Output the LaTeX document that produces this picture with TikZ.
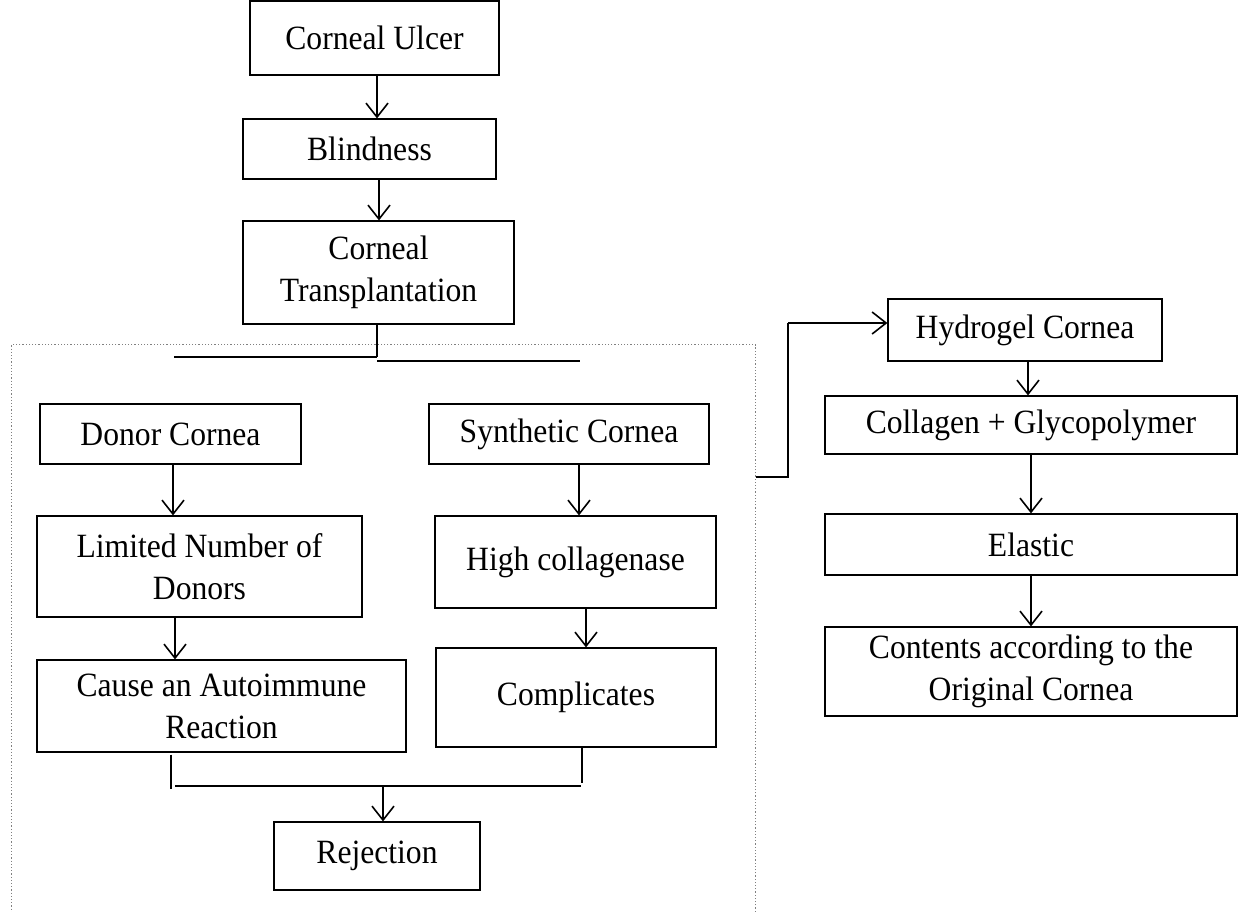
\documentclass[tikz,border=0pt]{standalone}
\usepackage{fontspec}
\setmainfont{Liberation Serif}[FakeStretch=0.93]
\usetikzlibrary{arrows.meta}
\begin{document}
\begin{tikzpicture}[x=1pt,y=-1pt,
  box/.style={draw, line width=1.2pt, rectangle, inner sep=0pt, align=center,
    font=\fontsize{34}{42}\selectfont},
  arr/.style={line width=1.6pt, -{Straight Barb[length=14pt,width=22pt,line width=1.6pt]}},
  brk/.style={line width=2.6pt},
  grpbox/.style={draw=gray, dotted, line width=1.2pt, inner sep=0pt}]
\useasboundingbox (0,0) rectangle (1239,911);
% group
\node[grpbox, minimum width=744pt, minimum height=620pt, anchor=north west] (grp) at (11,344) {};
% boxes
\node[box, minimum width=249pt, minimum height=74pt] (ulcer) at (374.5,38) {Corneal Ulcer};
\node[box, minimum width=253pt, minimum height=60pt] (blind) at (369.5,149) {Blindness};
\node[box, minimum width=271pt, minimum height=103pt] (ct) at (378.5,272.5) {Corneal\\Transplantation};
\node[box, minimum width=261pt, minimum height=60pt] (donor) at (170.5,434) {Donor Cornea};
\node[box, minimum width=280pt, minimum height=60pt] (synth) at (569,434) {Synthetic Cornea};
\node[box, minimum width=325pt, minimum height=101pt] (limited) at (199.5,566.5) {Limited Number of\\Donors};
\node[box, minimum width=281pt, minimum height=92pt] (high) at (575.5,562) {High collagenase};
\node[box, minimum width=369pt, minimum height=92pt] (cause) at (221.5,706) {Cause an Autoimmune\\Reaction};
\node[box, minimum width=280pt, minimum height=99pt] (compl) at (576,697.5) {Complicates};
\node[box, minimum width=206pt, minimum height=68pt] (reject) at (377,856) {Rejection};
\node[box, minimum width=274pt, minimum height=62pt] (hydro) at (1025,330) {Hydrogel Cornea};
\node[box, minimum width=412pt, minimum height=58pt] (coll) at (1031,425) {Collagen + Glycopolymer};
\node[box, minimum width=412pt, minimum height=61pt] (elastic) at (1031,544.5) {Elastic};
\node[box, minimum width=412pt, minimum height=89pt] (contents) at (1031,671.5) {Contents according to the\\Original Cornea};
% straight arrows
\coordinate (a1) at ([xshift=2.5pt]ulcer.south);
\draw[arr] (a1) -- (a1 |- blind.north);
\coordinate (a2) at ([xshift=9.5pt]blind.south);
\draw[arr] (a2) -- (a2 |- ct.north);
\coordinate (a3) at ([xshift=2.5pt]donor.south);
\draw[arr] (a3) -- (a3 |- limited.north);
\coordinate (a4) at ([xshift=-24.5pt]limited.south);
\draw[arr] (a4) -- (a4 |- cause.north);
\coordinate (a5) at ([xshift=10pt]synth.south);
\draw[arr] (a5) -- (a5 |- high.north);
\coordinate (a6) at ([xshift=10.5pt]high.south);
\draw[arr] (a6) -- (a6 |- compl.north);
\coordinate (a7) at ([xshift=3pt]hydro.south);
\draw[arr] (a7) -- (a7 |- coll.north);
\draw[arr] (coll.south) -- (elastic.north);
\draw[arr] (elastic.south) -- (contents.north);
% split under transplantation
\coordinate (s0) at ([xshift=-1.5pt]ct.south);
\coordinate (sL) at (174,357);
\coordinate (sR) at (580,361);
\draw[line width=1.6pt] (s0) -- (s0 |- sL);
\draw[brk] (sL) -- (s0 |- sL);
\draw[brk] (s0 |- sR) -- (sR);
% join to rejection
\coordinate (jL) at ([xshift=-50.5pt, yshift=-2pt]cause.south);
\coordinate (jR) at ([xshift=6pt]compl.south);
\draw[brk] (jL) -- (jL |- 0,789);
\draw[brk] (jR) -- (jR |- 0,783);
\draw[brk] (175,786) -- (581,786);
\coordinate (j0) at (383,786);
\draw[arr] (j0) -- (j0 |- reject.north);
% link to hydrogel
\coordinate (h0) at (grp.north east |- 0,477);
\draw[line width=1.6pt] (h0) -- (788,477) -- (788,323);
\draw[arr] (788,323) -- ([yshift=7pt]hydro.west);
\end{tikzpicture}
\end{document}
